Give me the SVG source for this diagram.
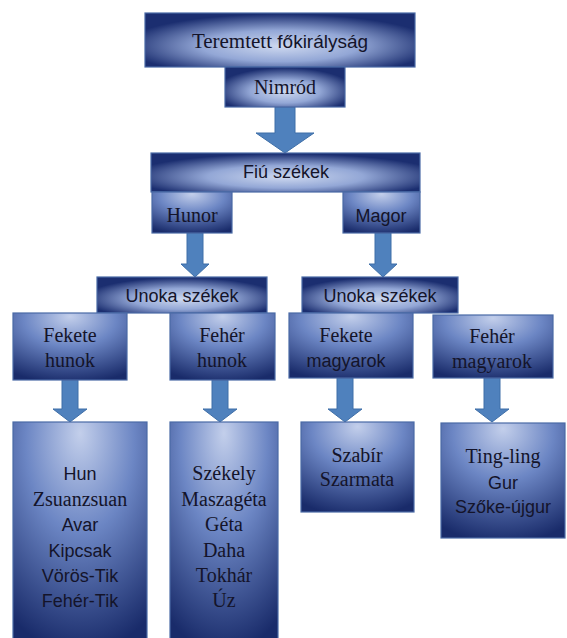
<svg xmlns="http://www.w3.org/2000/svg" width="567" height="638" viewBox="0 0 567 638">
<defs>
<radialGradient id="gw" cx="50%" cy="60%" r="58%" fx="50%" fy="62%">
<stop offset="0" stop-color="#cdd8ef"/>
<stop offset="0.5" stop-color="#93a7d6"/>
<stop offset="1" stop-color="#1b2e70"/>
</radialGradient>
<radialGradient id="gt" cx="50%" cy="15%" r="90%" fx="50%" fy="5%">
<stop offset="0" stop-color="#c3cfeb"/>
<stop offset="0.45" stop-color="#6c86c4"/>
<stop offset="1" stop-color="#192b6a"/>
</radialGradient>
<style>
.b{stroke:#4a6aa6;stroke-width:1.2}
.w{fill:url(#gw)}
.t{fill:url(#gt)}
text{fill:#14142a;text-anchor:middle}
.s{font-family:"Liberation Serif","Times New Roman","DejaVu Serif",Times,serif;font-size:20px}
.n{font-family:"Liberation Sans",Arial,sans-serif;font-size:18px}
.a{fill:#4f81bd;stroke:#3f6fa8;stroke-width:1}
</style>
</defs>
<g id="connectors">
<path class="a" d="M275,107 H295 V133 H314 L285,153 L256,133 H275 Z"/>
<path class="a" d="M187,233 H203 V264 H209 L195,277 L181,264 H187 Z"/>
<path class="a" d="M375,233 H391 V264 H397 L383,277 L369,264 H375 Z"/>
<path class="a" d="M62,380 H78 V409 H87 L70,422 L53,409 H62 Z"/>
<path class="a" d="M212,380 H228 V409 H237 L220,422 L203,409 H212 Z"/>
<path class="a" d="M337,378 H353 V409 H362 L345,422 L328,409 H337 Z"/>
<path class="a" d="M484,378 H500 V409 H509 L492,422 L475,409 H484 Z"/>
</g>
<g id="n-top"><rect class="b w" x="145" y="13" width="270" height="54"/><text x="280" y="48"><tspan class="s" style="font-size:21px">Teremtett </tspan><tspan class="n" style="font-size:19px">főkirályság</tspan></text></g>
<g id="n-nimrod"><rect class="b w" x="225" y="67" width="120" height="40"/><text class="s" x="285" y="94">Nimród</text></g>
<g id="n-fiu"><rect class="b w" x="151" y="153" width="269" height="39"/><text class="n" x="286" y="178">Fiú székek</text></g>
<g id="n-hunor"><rect class="b t" x="152" y="192" width="80" height="41"/><text class="s" x="192" y="222">Hunor</text></g>
<g id="n-magor"><rect class="b t" x="343" y="192" width="77" height="41"/><text class="n" x="381" y="222">Magor</text></g>
<g id="n-unoka1"><rect class="b w" x="97" y="277" width="170" height="36"/><text class="n" x="182" y="302">Unoka székek</text></g>
<g id="n-unoka2"><rect class="b w" x="302" y="277" width="156" height="36"/><text class="n" x="380" y="302">Unoka székek</text></g>
<g id="n-fekete-hunok"><rect class="b t" x="13" y="313" width="114" height="67"/><text class="s" x="70" y="342">Fekete</text><text class="s" x="70" y="367">hunok</text></g>
<g id="n-feher-hunok"><rect class="b t" x="170" y="313" width="105" height="67"/><text class="s" x="222" y="342">Fehér</text><text class="s" x="222" y="367">hunok</text></g>
<g id="n-fekete-magyarok"><rect class="b t" x="289" y="313" width="124" height="65"/><text class="s" x="346" y="342">Fekete</text><text class="n" x="346" y="367">magyarok</text></g>
<g id="n-feher-magyarok"><rect class="b t" x="433" y="315" width="120" height="63"/><text class="s" x="492" y="343">Fehér</text><text class="s" x="492" y="368">magyarok</text></g>
<g id="n-hun"><rect class="b t" x="13" y="422" width="134" height="220"/>
<text class="n" x="80" y="480">Hun</text><text class="s" x="80" y="506">Zsuanzsuan</text><text class="n" x="80" y="531">Avar</text><text class="n" x="80" y="557">Kipcsak</text><text class="n" x="80" y="582">Vörös-Tik</text><text class="n" x="80" y="607">Fehér-Tik</text></g>
<g id="n-szekely"><rect class="b t" x="170" y="422" width="108" height="220"/>
<text class="s" x="224" y="480">Székely</text><text class="s" x="224" y="506">Maszagéta</text><text class="s" x="224" y="531">Géta</text><text class="s" x="224" y="557">Daha</text><text class="s" x="224" y="582">Tokhár</text><text class="s" x="224" y="607">Úz</text></g>
<g id="n-szabir"><rect class="b t" x="301" y="422" width="113" height="90"/>
<text class="s" x="357" y="462">Szabír</text><text class="s" x="357" y="486">Szarmata</text></g>
<g id="n-tingling"><rect class="b t" x="441" y="423" width="124" height="115"/>
<text class="s" x="503" y="463">Ting-ling</text><text class="n" x="503" y="489">Gur</text><text class="n" x="503" y="513">Szőke-újgur</text></g>
</svg>
